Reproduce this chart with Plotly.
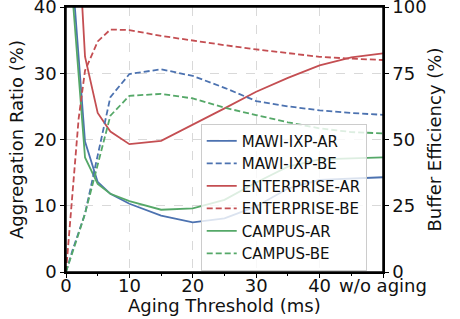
import plotly.graph_objects as go

aging_ms = [0, 1, 2, 3, 5, 7, 10, 15, 20, 25, 30, 35, 40, 45, 50]
x_tickvals = [0, 10, 20, 30, 40, 50]
x_ticktext = ["0", "10", "20", "30", "40", "w/o aging"]

mawi_ar = [None, 45, 32, 19.7, 13.6, 11.8, 10.3, 8.5, 7.5, 8.1, 9.9, 12.6, 13.9, 14.1, 14.3]
mawi_be = [0, 8, 15, 22, 44, 66, 74.7, 76.5, 74, 69.5, 64.5, 62.5, 61, 60, 59.3]
ent_ar = [None, 75, 50, 32.5, 24, 21.2, 19.3, 19.8, 22.2, 24.7, 27.2, 29.3, 31.2, 32.4, 33.0]
ent_be = [0, 30, 58, 76, 87, 91.5, 91.3, 89.1, 87.3, 85.6, 84.0, 82.5, 81.2, 80.5, 80.0]
campus_ar = [None, 42, 29.5, 17.3, 13.3, 11.8, 10.7, 9.4, 9.6, 10.9, 13.5, 15.9, 17.0, 17.2, 17.3]
campus_be = [0, 7, 14.5, 22, 41, 59, 66.5, 67.2, 65.5, 62, 59.2, 56.5, 54.2, 52.8, 52.3]

BLUE = "#4C72B0"
RED = "#C44E52"
GREEN = "#55A868"
DASH = "6px,3px"
LW = 1.8

fig = go.Figure()
series = [
    ("MAWI-IXP-AR", mawi_ar, BLUE, "solid", "y"),
    ("MAWI-IXP-BE", mawi_be, BLUE, DASH, "y2"),
    ("ENTERPRISE-AR", ent_ar, RED, "solid", "y"),
    ("ENTERPRISE-BE", ent_be, RED, DASH, "y2"),
    ("CAMPUS-AR", campus_ar, GREEN, "solid", "y"),
    ("CAMPUS-BE", campus_be, GREEN, DASH, "y2"),
]
for name, vals, color, dash, ax in series:
    fig.add_trace(go.Scatter(
        x=aging_ms, y=vals, name=name, mode="lines", yaxis=ax,
        line=dict(color=color, width=LW, dash=dash),
        connectgaps=False,
    ))

font = dict(family="DejaVu Sans", size=18, color="#111")
axis_common = dict(
    showline=True, linecolor="black", linewidth=1.5,
    ticks="outside", ticklen=4, tickwidth=1.2, tickcolor="black",
    tickfont=font, zeroline=False, automargin=False,
    ticklabeloverflow="allow",
)
fig.update_layout(
    width=460, height=319,
    margin=dict(l=66, r=77, t=7, b=47),
    paper_bgcolor="white", plot_bgcolor="white",
    font=font,
    showlegend=True,
    legend=dict(
        x=0.425, y=0.56, xanchor="left", yanchor="top",
        bgcolor="rgba(255,255,255,0.8)", bordercolor="#cccccc", borderwidth=1,
        font=dict(family="DejaVu Sans", size=15, color="#111"),
        tracegroupgap=0,
    ),
    xaxis=dict(
        range=[0, 50], tickvals=x_tickvals, ticktext=x_ticktext,
        ticklabelstandoff=-7,
        mirror=True, showgrid=True, gridcolor="#d9d9d9", griddash="dash", gridwidth=1,
        minor=dict(ticks="outside", ticklen=2, dtick=5, tick0=0, showgrid=False, tickcolor="black"),
        **axis_common,
    ),
    yaxis=dict(
        range=[0, 40], tickvals=[0, 10, 20, 30, 40],
        title=dict(text="Aggregation Ratio (%)", font=font, standoff=5),
        mirror=True, showgrid=True, gridcolor="#d9d9d9", griddash="dash", gridwidth=1,
        **axis_common,
    ),
    yaxis2=dict(
        range=[0, 100], tickvals=[0, 25, 50, 75, 100], overlaying="y", side="right",
        title=dict(text="Buffer Efficiency (%)", font=font, standoff=3),
        showgrid=False,
        **axis_common,
    ),
    annotations=[dict(text="Aging Threshold (ms)", xref="paper", yref="paper",
                      x=0.5, y=-0.127, xanchor="center", yanchor="middle",
                      showarrow=False, font=font)],
    shapes=[dict(type="rect", xref="paper", yref="paper", x0=0, y0=0, x1=1, y1=1,
                 line=dict(color="black", width=1.5), fillcolor="rgba(0,0,0,0)", layer="above")],
)

fig.write_html(
    "out.html",
    config={"displayModeBar": False},
    post_script="document.body.style.margin='0';document.body.style.padding='0';",
)
